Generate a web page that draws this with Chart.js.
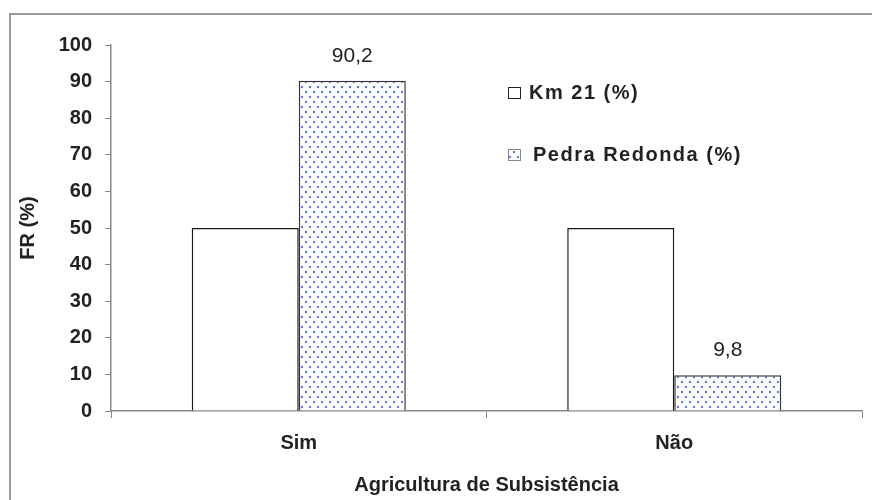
<!DOCTYPE html>
<html>
<head>
<meta charset="utf-8">
<script src="https://cdn.jsdelivr.net/npm/chart.js@4/dist/chart.umd.min.js"></script>
<style>
  body { margin: 0; background: #fff; }
  #wrap { position: relative; width: 872px; height: 500px; }
</style>
</head>
<body>
<div id="wrap"><canvas id="grafico"></canvas></div>
<script>
// Dados do gráfico
const categorias = ['Sim', 'Não'];
const serieKm21 = [50, 50];
const seriePedra = [90.2, 9.8];
const nomesSeries = ['Km 21 (%)', 'Pedra Redonda (%)'];
const ticksY = [0, 10, 20, 30, 40, 50, 60, 70, 80, 90, 100];

const FONTE = "'Liberation Sans', Arial, sans-serif";

// Padrão pontilhado azul (como no Excel)
function criarPadrao() {
    const c = document.createElement('canvas');
    c.width = 8;
    c.height = 10;
    const g = c.getContext('2d');
    g.fillStyle = '#fff';
    g.fillRect(0, 0, 8, 10);
    g.fillStyle = 'rgb(95, 128, 218)';
    g.beginPath();
    g.arc(2, 2, 1.2, 0, Math.PI * 2);
    g.arc(6, 7, 1.2, 0, Math.PI * 2);
    g.fill();
    return g.createPattern(c, 'repeat');
}
const padrao = criarPadrao();

// Moldura externa
const moldura = {
    id: 'moldura',
    beforeDraw(chart) {
        const ctx = chart.ctx;
        ctx.save();
        ctx.fillStyle = '#fff';
        ctx.fillRect(0, 0, chart.width, chart.height);
        ctx.strokeStyle = '#999';
        ctx.lineWidth = 2;
        ctx.strokeRect(10, 14, chart.width + 20, chart.height + 20);
        ctx.restore();
    }
};

// Rótulos de valor só para Pedra Redonda
const rotulos = {
    id: 'rotulos',
    afterDatasetsDraw(chart) {
        const ctx = chart.ctx;
        const meta = chart.getDatasetMeta(1);
        ctx.save();
        ctx.font = '21px ' + FONTE;
        ctx.fillStyle = '#222';
        ctx.textAlign = 'center';
        ctx.textBaseline = 'middle';
        meta.data.forEach((bar, i) => {
            const txt = String(seriePedra[i]).replace('.', ',');
            ctx.fillText(txt, bar.x, bar.y - 25);
        });
        ctx.restore();
    }
};

// Legenda desenhada dentro da área do gráfico
const legenda = {
    id: 'legenda',
    afterDraw(chart) {
        const ctx = chart.ctx;
        const linhas = [92, 154];
        ctx.save();
        ctx.font = 'bold 20px ' + FONTE;
        ctx.letterSpacing = '1.5px';
        ctx.textAlign = 'left';
        ctx.textBaseline = 'middle';
        chart.data.datasets.forEach((ds, i) => {
            const y = linhas[i];
            ctx.fillStyle = ds.backgroundColor;
            ctx.fillRect(508, y - 5, 12, 11);
            ctx.strokeStyle = i === 0 ? '#222' : '#888';
            ctx.lineWidth = 1;
            ctx.strokeRect(508.5, y - 4.5, 12, 11);
            ctx.fillStyle = '#222';
            ctx.fillText(ds.label, i === 0 ? 529 : 533, y + 1);
        });
        ctx.restore();
    }
};

new Chart(document.getElementById('grafico'), {
    type: 'bar',
    data: {
        labels: categorias,
        datasets: [{
            label: nomesSeries[0],
            data: serieKm21,
            backgroundColor: '#fff',
            borderColor: '#1a1a1a',
            borderWidth: 1.5,
            borderSkipped: 'bottom'
        }, {
            label: nomesSeries[1],
            data: seriePedra,
            backgroundColor: padrao,
            borderColor: '#333',
            borderWidth: 1.5,
            borderSkipped: 'bottom'
        }]
    },
    options: {
        responsive: true,
        maintainAspectRatio: false,
        animation: false,
        layout: { padding: { top: 45, right: 10, left: 0, bottom: 0 } },
        datasets: { bar: { categoryPercentage: 0.57, barPercentage: 1 } },
        plugins: {
            legend: { display: false },
            tooltip: { enabled: false }
        },
        scales: {
            x: {
                afterFit(s) { s.height = 89; },
                grid: { offset: true, drawOnChartArea: false, drawTicks: true, tickLength: 7, color: '#888' },
                border: { display: true, color: '#888', width: 1.5 },
                ticks: { padding: 13, color: '#222', font: { family: FONTE, size: 20, weight: 'bold' } },
                title: {
                    display: true,
                    text: 'Agricultura de Subsistência',
                    color: '#222',
                    padding: { top: 0, bottom: 3 },
                    font: { family: FONTE, size: 20, weight: 'bold' }
                }
            },
            y: {
                min: 0,
                max: 100,
                afterFit(s) { s.width = 111; },
                afterBuildTicks(s) { s.ticks = ticksY.map(v => ({ value: v })); },
                grid: { drawOnChartArea: false, drawTicks: true, tickLength: 6, color: '#888' },
                border: { display: true, color: '#888', width: 1.5 },
                ticks: { padding: 13, color: '#222', font: { family: FONTE, size: 20, weight: 'bold' } },
                title: {
                    display: true,
                    text: 'FR (%)',
                    color: '#222',
                    padding: { top: 16, bottom: 0 },
                    font: { family: FONTE, size: 20, weight: 'bold' }
                }
            }
        }
    },
    plugins: [moldura, rotulos, legenda]
});
</script>
</body>
</html>
